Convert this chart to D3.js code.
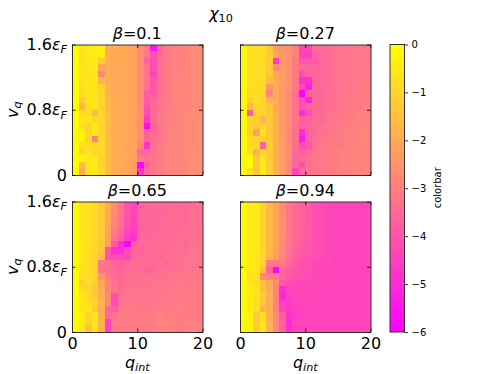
<!DOCTYPE html>
<html>
<head>
<meta charset="utf-8">
<script src="https://cdn.jsdelivr.net/npm/d3@7"></script>
<style>
  html, body { margin: 0; padding: 0; background: #fff; }
  svg { display: block; }
  text { font-family: "DejaVu Sans", sans-serif; fill: #000; }
</style>
</head>
<body>
<svg id="chart"></svg>
<script>
// Data: one row per v_q step (top row first), one value per q_int
const betas = ['0.1', '0.27', '0.65', '0.94'];
const xTicks = [0, 10, 20];
const yTicks = [0, 0.8, 1.6];
const colorTicks = [0, -1, -2, -3, -4, -5, -6];

const beta010 = [
  [-0.1,-0.6,-0.5,-0.4,-0.4,-1.9,-1.9,-2.0,-2.1,-2.2,-2.7,-3.1,-5.5,-3.5,-3.1,-3.0,-3.0,-2.9,-2.8,-2.8],
  [-0.1,-0.7,-0.5,-0.4,-0.4,-1.9,-2.0,-2.0,-2.1,-2.2,-2.7,-3.2,-4.1,-3.5,-3.2,-3.0,-3.0,-2.9,-2.8,-2.8],
  [-0.1,-0.7,-0.5,-0.5,-1.3,-1.9,-2.0,-2.0,-2.1,-2.2,-2.7,-3.7,-4.2,-3.4,-3.1,-3.0,-3.0,-2.9,-2.8,-2.8],
  [-0.1,-0.7,-0.6,-0.5,-2.1,-1.9,-2.0,-2.0,-2.1,-2.2,-2.7,-3.3,-4.2,-3.4,-3.1,-3.0,-3.0,-2.9,-2.8,-2.8],
  [-0.1,-0.7,-0.6,-0.6,-2.8,-1.9,-2.0,-2.0,-2.1,-2.2,-2.7,-3.3,-4.4,-3.4,-3.1,-3.0,-3.0,-2.9,-2.8,-2.8],
  [-0.1,-0.7,-0.6,-0.6,-1.7,-1.9,-2.0,-2.0,-2.1,-2.2,-2.7,-3.3,-4.0,-3.4,-3.1,-3.0,-2.9,-2.9,-2.8,-2.8],
  [-0.1,-0.8,-0.6,-0.6,-1.1,-1.8,-2.0,-2.0,-2.1,-2.2,-2.7,-3.3,-4.0,-3.4,-3.1,-3.0,-2.9,-2.9,-2.8,-2.8],
  [-0.1,-0.8,-0.6,-0.6,-1.0,-1.8,-2.0,-2.0,-2.1,-2.2,-2.7,-3.8,-3.9,-3.3,-3.1,-3.0,-2.9,-2.9,-2.8,-2.8],
  [-0.1,-1.2,-0.6,-0.6,-1.0,-1.7,-2.0,-2.0,-2.1,-2.2,-2.7,-3.8,-3.6,-3.3,-3.1,-3.0,-2.9,-2.9,-2.8,-2.8],
  [-0.1,-1.7,-0.7,-0.6,-1.0,-1.7,-1.9,-2.0,-2.1,-2.2,-2.6,-4.1,-3.5,-3.3,-3.1,-3.0,-2.9,-2.9,-2.8,-2.8],
  [-0.1,-0.9,-0.7,-1.6,-1.0,-1.6,-1.9,-2.0,-2.1,-2.2,-2.6,-4.3,-3.5,-3.2,-3.0,-3.0,-2.9,-2.8,-2.8,-2.8],
  [-0.1,-0.6,-0.6,-0.9,-1.0,-1.6,-1.9,-2.0,-2.1,-2.2,-2.6,-4.7,-3.5,-3.2,-3.0,-3.0,-2.9,-2.8,-2.8,-2.7],
  [-0.1,-0.8,-1.0,-0.5,-1.0,-1.6,-1.9,-2.0,-2.1,-2.2,-2.6,-5.8,-3.7,-3.2,-3.0,-3.0,-2.9,-2.8,-2.8,-2.7],
  [-0.1,-0.4,-1.0,-0.5,-1.0,-1.6,-1.9,-2.0,-2.1,-2.2,-2.6,-3.8,-3.5,-3.3,-3.0,-2.9,-2.9,-2.8,-2.8,-2.7],
  [-0.1,-0.3,-1.0,-3.0,-0.9,-1.6,-1.9,-2.0,-2.1,-2.2,-2.7,-3.7,-3.4,-3.3,-3.0,-2.9,-2.9,-2.8,-2.8,-2.7],
  [-0.1,-0.7,-0.7,-0.9,-0.9,-1.6,-1.9,-2.0,-2.1,-2.2,-2.9,-4.8,-3.4,-3.1,-3.0,-2.9,-2.9,-2.8,-2.8,-2.7],
  [-0.1,-1.0,-0.6,-1.0,-1.0,-1.6,-1.9,-2.0,-2.1,-2.2,-3.6,-3.6,-3.4,-3.1,-3.0,-2.9,-2.9,-2.8,-2.7,-2.7],
  [-0.1,-0.2,-0.5,-0.5,-1.0,-1.6,-1.9,-2.0,-2.1,-2.3,-3.0,-3.4,-3.3,-3.1,-3.0,-2.9,-2.9,-2.8,-2.7,-2.7],
  [-0.1,-1.6,-0.6,-0.5,-1.0,-1.6,-1.9,-2.0,-2.1,-2.3,-5.9,-3.8,-3.3,-3.1,-3.0,-2.9,-2.9,-2.8,-2.7,-2.7],
  [-0.1,-2.0,-0.6,-0.6,-1.0,-1.6,-1.9,-2.0,-2.1,-2.3,-4.8,-3.5,-3.3,-3.1,-3.0,-2.9,-2.9,-2.8,-2.7,-2.7]
];

const beta027 = [
  [-0.2,-0.8,-0.8,-0.8,-1.3,-2.4,-2.5,-2.6,-3.0,-4.4,-4.4,-3.5,-3.5,-3.5,-3.4,-3.3,-3.3,-3.2,-3.2,-3.2],
  [-0.2,-0.8,-0.8,-0.8,-1.2,-2.0,-2.5,-2.6,-3.0,-4.5,-4.6,-3.7,-3.6,-3.5,-3.4,-3.3,-3.3,-3.2,-3.2,-3.2],
  [-0.2,-0.8,-0.8,-0.8,-1.2,-4.6,-2.5,-2.6,-3.1,-4.0,-4.0,-3.9,-3.6,-3.5,-3.4,-3.3,-3.3,-3.2,-3.2,-3.2],
  [-0.2,-0.8,-0.8,-0.8,-1.3,-2.8,-2.4,-2.6,-3.1,-3.6,-3.6,-3.7,-3.6,-3.5,-3.4,-3.3,-3.3,-3.2,-3.2,-3.2],
  [-0.2,-0.8,-0.8,-0.8,-1.3,-2.1,-2.4,-2.6,-3.1,-4.2,-3.7,-3.6,-3.6,-3.5,-3.4,-3.3,-3.3,-3.2,-3.2,-3.1],
  [-0.2,-0.8,-0.8,-0.8,-1.7,-2.0,-2.4,-2.6,-3.1,-4.8,-4.8,-3.6,-3.6,-3.5,-3.4,-3.3,-3.3,-3.2,-3.2,-3.1],
  [-0.2,-0.8,-0.8,-0.9,-2.5,-2.0,-2.4,-2.6,-3.2,-4.2,-5.2,-3.6,-3.6,-3.5,-3.4,-3.3,-3.2,-3.2,-3.1,-3.1],
  [-0.2,-0.9,-0.8,-0.9,-2.9,-2.0,-2.4,-2.7,-3.4,-6.0,-3.8,-3.6,-3.6,-3.4,-3.4,-3.3,-3.2,-3.2,-3.1,-3.1],
  [-0.2,-1.1,-0.8,-0.9,-1.8,-2.0,-2.4,-2.7,-3.4,-4.2,-5.1,-3.6,-3.5,-3.4,-3.4,-3.3,-3.2,-3.1,-3.1,-3.1],
  [-0.2,-1.7,-0.9,-1.0,-1.3,-2.0,-2.4,-2.7,-3.3,-4.1,-3.7,-3.6,-3.5,-3.4,-3.3,-3.2,-3.2,-3.1,-3.1,-3.0],
  [-0.2,-3.9,-1.0,-1.0,-1.3,-2.0,-2.4,-2.7,-3.3,-5.0,-4.2,-3.6,-3.5,-3.4,-3.3,-3.2,-3.1,-3.1,-3.0,-3.0],
  [-0.2,-1.0,-1.1,-1.8,-1.3,-1.9,-2.4,-2.7,-3.2,-3.8,-3.7,-3.5,-3.5,-3.4,-3.3,-3.2,-3.1,-3.1,-3.0,-3.0],
  [-0.2,-1.1,-1.2,-1.1,-1.3,-1.9,-2.4,-2.7,-3.4,-3.7,-3.6,-3.5,-3.4,-3.3,-3.2,-3.1,-3.1,-3.0,-3.0,-2.9],
  [-0.2,-1.1,-2.2,-0.6,-1.3,-1.9,-2.4,-2.8,-3.4,-5.0,-3.7,-3.5,-3.4,-3.3,-3.2,-3.1,-3.0,-3.0,-2.9,-2.9],
  [-0.2,-0.8,-1.0,-1.1,-1.3,-1.9,-2.3,-2.8,-3.4,-5.4,-3.8,-3.4,-3.3,-3.2,-3.1,-3.1,-3.0,-3.0,-2.9,-2.9],
  [-0.2,-0.8,-1.0,-3.8,-1.2,-1.9,-2.3,-2.7,-3.4,-4.3,-3.9,-3.4,-3.2,-3.1,-3.1,-3.1,-3.0,-3.0,-2.9,-2.9],
  [-0.2,-0.8,-1.8,-0.9,-1.2,-1.9,-2.3,-2.7,-3.6,-3.8,-3.5,-3.3,-3.2,-3.1,-3.1,-3.0,-3.0,-2.9,-2.9,-2.9],
  [-0.2,-0.1,-1.4,-0.6,-1.2,-1.9,-2.3,-2.7,-3.7,-3.5,-3.4,-3.3,-3.2,-3.1,-3.1,-3.0,-3.0,-2.9,-2.9,-2.9],
  [-0.2,-0.1,-1.3,-0.5,-1.2,-1.9,-2.3,-2.8,-3.6,-4.1,-3.4,-3.3,-3.2,-3.1,-3.1,-3.0,-3.0,-2.9,-2.9,-2.9],
  [-0.2,-0.8,-1.4,-0.5,-1.2,-1.9,-2.3,-2.8,-4.4,-3.6,-3.4,-3.3,-3.2,-3.1,-3.1,-3.0,-3.0,-2.9,-2.9,-2.9]
];

const beta065 = [
  [-0.1,-0.6,-0.7,-0.9,-1.3,-2.0,-2.7,-3.3,-4.1,-4.4,-3.8,-3.6,-3.6,-3.5,-3.6,-3.5,-3.6,-3.5,-3.4,-3.4],
  [-0.1,-0.6,-0.7,-0.9,-1.3,-2.0,-2.7,-3.3,-4.0,-4.4,-3.7,-3.6,-3.6,-3.6,-3.6,-3.5,-3.5,-3.5,-3.4,-3.4],
  [-0.1,-0.6,-0.7,-0.9,-1.3,-2.0,-2.8,-3.3,-4.1,-4.4,-3.7,-3.6,-3.6,-3.6,-3.6,-3.5,-3.6,-3.5,-3.4,-3.4],
  [-0.1,-0.6,-0.7,-0.9,-1.3,-2.1,-2.9,-3.4,-4.2,-4.5,-3.7,-3.6,-3.6,-3.6,-3.5,-3.5,-3.5,-3.5,-3.4,-3.4],
  [-0.1,-0.6,-0.7,-0.9,-1.3,-2.1,-3.1,-3.5,-4.3,-4.6,-3.7,-3.6,-3.6,-3.6,-3.5,-3.5,-3.5,-3.4,-3.4,-3.4],
  [-0.1,-0.6,-0.7,-0.9,-1.3,-2.2,-3.4,-3.8,-4.6,-4.9,-3.6,-3.6,-3.6,-3.5,-3.5,-3.5,-3.4,-3.4,-3.4,-3.3],
  [-0.1,-0.6,-0.7,-0.9,-1.3,-2.3,-4.0,-5.0,-5.9,-3.7,-3.6,-3.6,-3.5,-3.5,-3.5,-3.5,-3.4,-3.5,-3.4,-3.3],
  [-0.1,-0.6,-0.8,-0.9,-1.4,-4.0,-4.9,-5.0,-4.1,-3.6,-3.6,-3.6,-3.5,-3.5,-3.5,-3.4,-3.4,-3.4,-3.3,-3.3],
  [-0.1,-0.6,-0.8,-1.0,-1.6,-4.1,-4.2,-4.2,-4.3,-3.6,-3.6,-3.5,-3.5,-3.5,-3.4,-3.4,-3.4,-3.4,-3.3,-3.3],
  [-0.1,-0.7,-0.8,-1.0,-3.2,-3.4,-3.6,-3.8,-3.6,-3.5,-3.5,-3.5,-3.5,-3.4,-3.6,-3.4,-3.4,-3.3,-3.3,-3.3],
  [-0.1,-0.7,-0.8,-1.0,-3.3,-3.3,-3.6,-3.7,-3.5,-3.5,-3.5,-3.7,-3.5,-3.4,-3.4,-3.4,-3.3,-3.3,-3.3,-3.2],
  [-0.1,-0.8,-0.8,-1.0,-2.5,-3.1,-3.4,-3.5,-3.4,-3.4,-3.4,-3.4,-3.4,-3.4,-3.3,-3.3,-3.3,-3.2,-3.3,-3.2],
  [-0.1,-1.1,-0.8,-1.1,-2.1,-3.0,-3.3,-3.5,-3.4,-3.4,-3.4,-3.4,-3.3,-3.3,-3.3,-3.3,-3.2,-3.2,-3.2,-3.2],
  [-0.1,-0.8,-1.0,-1.4,-2.0,-2.9,-3.3,-3.5,-3.3,-3.3,-3.3,-3.3,-3.3,-3.3,-3.2,-3.2,-3.2,-3.2,-3.2,-3.1],
  [-0.1,-0.6,-0.9,-1.3,-1.9,-2.8,-4.2,-3.4,-3.3,-3.3,-3.3,-3.3,-3.3,-3.2,-3.2,-3.2,-3.2,-3.1,-3.1,-3.1],
  [-0.1,-0.6,-0.8,-1.0,-1.8,-2.8,-4.3,-3.3,-3.3,-3.2,-3.3,-3.3,-3.2,-3.2,-3.2,-3.2,-3.1,-3.1,-3.1,-3.1],
  [-0.1,-0.6,-0.6,-1.3,-1.9,-3.6,-3.8,-3.2,-3.1,-3.2,-3.2,-3.2,-3.1,-3.1,-3.1,-3.1,-3.0,-3.1,-3.1,-3.1],
  [-0.1,-0.4,-1.0,-0.6,-1.9,-3.6,-3.4,-3.1,-3.1,-3.2,-3.1,-3.1,-3.1,-3.0,-3.1,-3.0,-3.1,-3.1,-3.1,-3.1],
  [-0.1,-0.4,-1.0,-0.6,-1.8,-4.4,-3.2,-3.1,-3.1,-3.1,-3.1,-3.1,-3.1,-3.0,-2.9,-3.0,-3.1,-3.1,-3.0,-3.0],
  [-0.1,-0.6,-1.5,-0.6,-1.9,-4.5,-3.2,-3.1,-3.1,-3.1,-3.1,-3.1,-3.1,-2.9,-2.9,-3.0,-3.1,-3.0,-3.0,-3.0]
];

const beta094 = [
  [-0.1,-0.5,-0.5,-1.0,-1.7,-2.1,-2.7,-3.2,-3.5,-3.7,-3.9,-4.1,-4.2,-4.3,-4.4,-4.4,-4.4,-4.4,-4.4,-4.4],
  [-0.1,-0.5,-0.5,-1.0,-1.7,-2.1,-2.7,-3.2,-3.5,-3.7,-3.9,-4.1,-4.2,-4.3,-4.4,-4.4,-4.4,-4.4,-4.4,-4.4],
  [-0.1,-0.5,-0.5,-1.0,-1.7,-2.1,-2.7,-3.2,-3.5,-3.7,-3.9,-4.1,-4.2,-4.3,-4.4,-4.4,-4.4,-4.4,-4.4,-4.4],
  [-0.1,-0.5,-0.5,-1.0,-1.7,-2.1,-2.7,-3.2,-3.5,-3.7,-3.9,-4.1,-4.2,-4.3,-4.4,-4.4,-4.4,-4.4,-4.4,-4.4],
  [-0.1,-0.5,-0.5,-1.0,-1.7,-2.1,-2.7,-3.2,-3.5,-3.7,-3.9,-4.1,-4.2,-4.3,-4.4,-4.4,-4.4,-4.4,-4.4,-4.4],
  [-0.1,-0.5,-0.5,-1.0,-1.7,-2.1,-2.7,-3.2,-3.6,-3.8,-4.0,-4.1,-4.2,-4.3,-4.4,-4.4,-4.4,-4.4,-4.4,-4.4],
  [-0.1,-0.5,-0.5,-1.0,-1.7,-2.1,-2.8,-3.3,-3.6,-3.8,-4.0,-4.1,-4.2,-4.3,-4.4,-4.4,-4.4,-4.4,-4.4,-4.4],
  [-0.1,-0.5,-0.5,-1.0,-1.7,-2.2,-2.8,-3.3,-3.7,-3.9,-4.0,-4.2,-4.2,-4.3,-4.4,-4.4,-4.4,-4.4,-4.4,-4.4],
  [-0.1,-0.5,-0.6,-1.0,-1.8,-2.3,-2.9,-3.4,-3.8,-4.0,-4.1,-4.2,-4.3,-4.3,-4.4,-4.4,-4.4,-4.4,-4.4,-4.4],
  [-0.1,-0.5,-0.6,-1.1,-3.2,-3.2,-3.2,-3.6,-3.9,-4.1,-4.2,-4.3,-4.3,-4.3,-4.4,-4.4,-4.4,-4.4,-4.4,-4.4],
  [-0.1,-0.6,-0.6,-1.5,-3.8,-6.0,-3.6,-3.8,-4.0,-4.2,-4.2,-4.3,-4.3,-4.4,-4.4,-4.4,-4.4,-4.4,-4.4,-4.4],
  [-0.1,-0.7,-0.7,-2.8,-3.0,-3.1,-3.7,-3.9,-4.1,-4.2,-4.3,-4.3,-4.3,-4.4,-4.4,-4.4,-4.4,-4.4,-4.4,-4.4],
  [-0.1,-0.7,-0.8,-1.4,-2.0,-2.8,-3.9,-4.2,-4.3,-4.3,-4.3,-4.3,-4.3,-4.4,-4.4,-4.4,-4.4,-4.4,-4.4,-4.4],
  [-0.1,-0.5,-0.7,-1.5,-2.0,-2.9,-4.9,-4.4,-4.3,-4.3,-4.3,-4.4,-4.4,-4.4,-4.4,-4.4,-4.4,-4.4,-4.4,-4.4],
  [-0.1,-0.5,-0.7,-1.2,-1.9,-2.9,-5.1,-4.5,-4.4,-4.3,-4.4,-4.4,-4.4,-4.4,-4.4,-4.4,-4.4,-4.4,-4.4,-4.4],
  [-0.1,-0.5,-0.8,-1.3,-1.9,-3.0,-4.6,-4.6,-4.4,-4.4,-4.4,-4.4,-4.4,-4.4,-4.4,-4.4,-4.4,-4.4,-4.4,-4.4],
  [-0.1,-0.5,-0.7,-1.8,-1.9,-3.0,-4.4,-4.7,-4.5,-4.4,-4.4,-4.4,-4.4,-4.4,-4.4,-4.4,-4.4,-4.4,-4.4,-4.4],
  [-0.1,-0.3,-1.2,-0.7,-1.9,-2.8,-3.8,-4.8,-4.6,-4.5,-4.4,-4.4,-4.4,-4.4,-4.4,-4.4,-4.4,-4.4,-4.4,-4.4],
  [-0.1,-0.3,-1.2,-0.6,-1.8,-2.8,-3.7,-5.0,-4.4,-4.4,-4.4,-4.4,-4.4,-4.4,-4.4,-4.4,-4.4,-4.4,-4.4,-4.4],
  [-0.1,-0.4,-1.2,-0.6,-1.8,-2.8,-3.7,-4.9,-4.4,-4.4,-4.4,-4.4,-4.4,-4.4,-4.4,-4.4,-4.4,-4.4,-4.4,-4.4]
];

const panelData = [beta010, beta027, beta065, beta094];

// Constants
const width = 498;
const height = 374;
const panelWidth = 130.5;
const panelHeight = 130.5;
const panelX = [72, 240];
const panelY = [44.5, 201.5];
const axisColor = '#333';
const fontSize = 16;

const svg = d3.select('#chart')
  .attr('width', width)
  .attr('height', height);

// spring_r colormap: yellow at 0, magenta at -6
const color = d3.scaleLinear()
  .domain([-6, 0])
  .range(['#ff00ff', '#ffff00'])
  .clamp(true);

const x = d3.scaleLinear().domain([0, 20]).range([0, panelWidth]);
const y = d3.scaleLinear().domain([0, 1.6]).range([panelHeight, 0]);

// Mathtext helper: pieces of [text, italic, subscript]
function mathText(sel, pieces, size) {
  pieces.forEach(p => {
    const t = sel.append('tspan')
      .attr('font-style', p[1] ? 'italic' : 'normal')
      .attr('font-size', p[2] ? size * 0.7 : size)
      .text(p[0]);
    if (p[2]) t.attr('dy', size * 0.2);
  });
}

panelData.forEach((rows, i) => {
  const px = panelX[i % 2];
  const py = panelY[Math.floor(i / 2)];
  const g = svg.append('g').attr('transform', `translate(${px},${py})`);

  // Step 1: heatmap cells
  rows.forEach((row, r) => {
    g.selectAll(null)
      .data(row)
      .enter()
      .append('rect')
      .attr('x', (d, c) => x(c))
      .attr('y', y(1.6 - r * 0.08))
      .attr('width', x(1) - x(0))
      .attr('height', y(0) - y(0.08))
      .attr('shape-rendering', 'crispEdges')
      .attr('fill', d => color(d));
  });

  // Step 2: inward ticks on all four sides
  const isBottom = i >= 2;
  const isLeft = i % 2 === 0;

  const bottom = g.append('g')
    .attr('transform', `translate(0,${panelHeight})`)
    .call(d3.axisBottom(x).tickValues(xTicks).tickSizeInner(-3.5).tickSizeOuter(0).tickPadding(5.5)
      .tickFormat(d => isBottom ? d : ''));
  g.append('g')
    .call(d3.axisTop(x).tickValues(xTicks).tickSizeInner(-3.5).tickSizeOuter(0).tickFormat(''));
  const left = g.append('g')
    .call(d3.axisLeft(y).tickValues(yTicks).tickSizeInner(-3.5).tickSizeOuter(0).tickPadding(5)
      .tickFormat(''));
  g.append('g')
    .attr('transform', `translate(${panelWidth},0)`)
    .call(d3.axisRight(y).tickValues(yTicks).tickSizeInner(-3.5).tickSizeOuter(0).tickFormat(''));

  bottom.selectAll('text').attr('font-size', fontSize).attr('font-family', '"DejaVu Sans"');

  // y tick labels have a math part, so they are filled by hand
  if (isLeft) {
    left.selectAll('.tick text')
      .attr('font-size', fontSize)
      .attr('font-family', '"DejaVu Sans"')
      .each(function(d) {
        const t = d3.select(this);
        if (d === 0) {
          t.text('0');
        } else {
          mathText(t, [[d.toFixed(1), false, false], ['ε', true, false], ['F', true, true]], fontSize);
        }
      });
  }

  g.selectAll('.domain').attr('stroke', axisColor).attr('stroke-width', 1);
  g.selectAll('.tick line').attr('stroke', '#000').attr('stroke-width', 0.8);

  // Step 3: title and axis labels
  const title = g.append('text')
    .attr('x', panelWidth / 2)
    .attr('y', -5.5)
    .attr('text-anchor', 'middle')
    .attr('font-size', fontSize);
  mathText(title, [['β', true, false], ['=' + betas[i], false, false]], fontSize);

  if (isBottom) {
    const xl = g.append('text')
      .attr('x', panelWidth / 2)
      .attr('y', panelHeight + 35.5)
      .attr('text-anchor', 'middle');
    mathText(xl, [['q', true, false], ['int', true, true]], fontSize);
  }
  if (isLeft) {
    const yl = g.append('text')
      .attr('transform', `translate(-54.5,${panelHeight / 2}) rotate(-90)`)
      .attr('text-anchor', 'middle');
    mathText(yl, [['v', true, false], ['q', true, true]], fontSize);
  }
});

// Figure title
const figTitle = svg.append('text')
  .attr('x', 221)
  .attr('y', 18.5)
  .attr('text-anchor', 'middle');
mathText(figTitle, [['χ', true, false], ['10', false, true]], fontSize);

// Step 4: colorbar
const barX = 390;
const barY = 44.5;
const barWidth = 14.5;
const barHeight = 287.5;

const defs = svg.append('defs');
const gradient = defs.append('linearGradient')
  .attr('id', 'bar-gradient')
  .attr('x1', 0).attr('x2', 0).attr('y1', 0).attr('y2', 1);
gradient.append('stop').attr('offset', '0%').attr('stop-color', color(0));
gradient.append('stop').attr('offset', '100%').attr('stop-color', color(-6));

const bar = svg.append('g').attr('transform', `translate(${barX},${barY})`);
const barScale = d3.scaleLinear().domain([0, -6]).range([0, barHeight]);

bar.append('rect')
  .attr('width', barWidth)
  .attr('height', barHeight)
  .attr('fill', 'url(#bar-gradient)')
  .attr('stroke', axisColor)
  .attr('stroke-width', 1);

const barAxis = bar.append('g')
  .attr('transform', `translate(${barWidth},0)`)
  .call(d3.axisRight(barScale).tickValues(colorTicks).tickSizeInner(3.5).tickSizeOuter(0).tickPadding(3.5)
    .tickFormat(d => d === 0 ? '0' : '\u2212' + Math.abs(d)));
barAxis.select('.domain').remove();
barAxis.selectAll('.tick line').attr('stroke', '#000').attr('stroke-width', 0.8);
barAxis.selectAll('text').attr('font-size', 10).attr('font-family', '"DejaVu Sans"');

svg.append('text')
  .attr('transform', `translate(441,${barY + barHeight / 2 - 0.5}) rotate(-90)`)
  .attr('text-anchor', 'middle')
  .attr('font-size', 10)
  .text('colorbar');
</script>
</body>
</html>
